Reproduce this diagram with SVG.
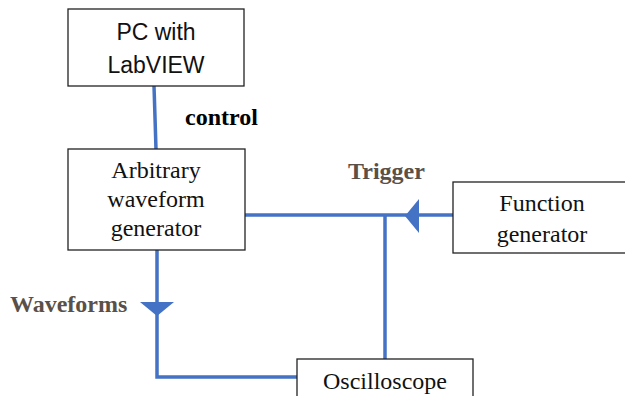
<svg xmlns="http://www.w3.org/2000/svg" width="625" height="396" viewBox="0 0 625 396">
<style>
.box{fill:#fff;stroke:#222;stroke-width:1.3}
.wire{fill:none;stroke:#4472C4;stroke-width:3.5}
.tri{fill:#4472C4}
.ss{font-family:"Liberation Sans",Arial,sans-serif;font-size:23px;fill:#111;text-anchor:middle}
.rm{font-family:"Liberation Serif","Times New Roman","DejaVu Serif",serif;font-size:24px;font-weight:normal;fill:#111;text-anchor:middle}
.lbl{font-family:"Liberation Serif","Times New Roman",serif;font-size:24px;font-weight:bold}
</style>
<rect width="625" height="396" fill="#fff"/>
<g id="connectors">
<line class="wire" x1="154" y1="86" x2="156" y2="149"/>
<polyline class="wire" points="245,215 455,215"/>
<polyline class="wire" points="385,215 385,360"/>
<polyline class="wire" points="157,250 157,377 298,377"/>
<polygon class="tri" points="405,216 419,199 419,233"/>
<polygon class="tri" points="140,302 174,302 157,316"/>
<text class="lbl" x="185" y="125" fill="#000">control</text>
<text class="lbl" x="348" y="179" fill="#5a5048">Trigger</text>
<text class="lbl" x="10" y="312" fill="#5a5048">Waveforms</text>
</g>
<g id="pc">
<rect class="box" x="68" y="9" width="176" height="77"/>
<text class="ss" x="156" y="40">PC with</text>
<text class="ss" x="156" y="73">LabVIEW</text>
</g>
<g id="awg">
<rect class="box" x="68" y="149" width="177" height="101"/>
<text class="rm" x="156" y="178">Arbitrary</text>
<text class="rm" x="156" y="207">waveform</text>
<text class="rm" x="156" y="236">generator</text>
</g>
<g id="funcgen">
<rect class="box" x="453" y="182" width="180" height="71"/>
<text class="rm" x="542" y="211">Function</text>
<text class="rm" x="542" y="242">generator</text>
</g>
<g id="scope">
<rect class="box" x="297" y="359" width="176" height="50"/>
<text class="rm" x="385" y="389">Oscilloscope</text>
</g>
</svg>
